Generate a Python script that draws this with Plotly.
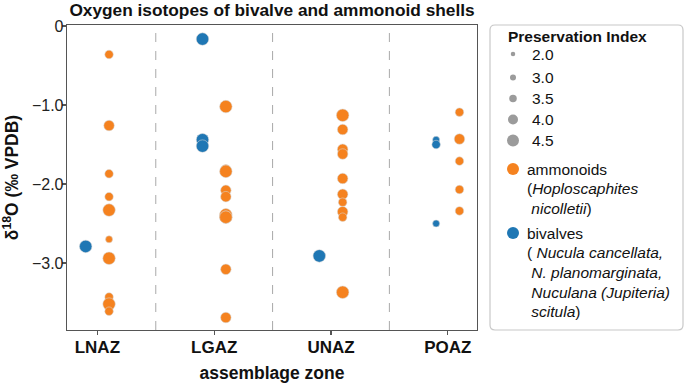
import plotly.graph_objects as go

# ---------------- data ----------------
zones = ["LNAZ", "LGAZ", "UNAZ", "POAZ"]

amm_zone = ["LNAZ"] * 10 + ["LGAZ"] * 10 + ["UNAZ"] * 10 + ["POAZ"] * 5
amm_d18o = [-0.36, -1.26, -1.87, -2.16, -2.33, -2.70, -2.94, -3.43, -3.52, -3.61,
            -1.02, -1.82, -1.84, -2.08, -2.16, -2.39, -2.42, -2.42, -3.08, -3.69,
            -1.13, -1.31, -1.56, -1.62, -1.93, -2.13, -2.23, -2.35, -2.42, -3.37,
            -1.09, -1.43, -1.71, -2.07, -2.34]
amm_pi = [3.5, 4.0, 3.5, 3.5, 4.5, 3.0, 4.5, 3.5, 4.5, 3.5,
          4.5, 4.0, 4.5, 4.0, 4.0, 4.5, 4.5, 4.5, 4.0, 4.0,
          4.5, 4.0, 4.0, 4.0, 4.0, 4.0, 3.5, 4.0, 3.5, 4.5,
          3.5, 4.0, 3.5, 3.5, 3.5]

biv_zone = ["LNAZ", "LGAZ", "LGAZ", "LGAZ", "UNAZ", "POAZ", "POAZ", "POAZ"]
biv_d18o = [-2.79, -0.165, -1.44, -1.52, -2.91, -1.44, -1.50, -2.50]
biv_pi = [4.5, 4.5, 4.5, 4.5, 4.5, 3.0, 3.5, 3.0]

pi_levels = [2.0, 3.0, 3.5, 4.0, 4.5]
pi_diam = [5, 7, 8.5, 10.5, 12.5]          # marker diameter per level (px)
legend_diam = [4.5, 6, 7.5, 10, 12]

y_tickvals = [0, -1, -2, -3]
y_ticktext = ["0", "\u22121.0", "\u22122.0", "\u22123.0"]

legend_title = "Preservation Index"
amm_label = ["ammonoids", "(<i>Hoploscaphites</i>", "\u00a0<i>nicolletii</i>)"]
biv_label = ["bivalves", "( <i>Nucula cancellata,</i>", "\u00a0<i>N. planomarginata,</i>",
             "\u00a0<i>Nuculana (Jupiteria)</i>", "\u00a0<i>scitula</i>)"]

# ---------------- styling ----------------
FONT = "Liberation Sans, Arial, Helvetica, sans-serif"
ORANGE = "#f5821f"
BLUE = "#1f77b4"
GREY = "#9b9b9b"
TXT = "#111111"
OFFSET = 0.1
W, H = 685, 383
ML, MR, MT, MB = 67, 208, 25, 53
PW, PH = W - ML - MR, H - MT - MB

size_map = dict(zip(pi_levels, pi_diam))
xpos = {z: i for i, z in enumerate(zones)}


def px(xp):
    return (xp - ML) / PW


def py(yp):
    return 1 - (yp - MT) / PH


fig = go.Figure()

# zone separators
for i in range(len(zones) - 1):
    fig.add_shape(type="line", xref="x", yref="paper", x0=i + 0.5, x1=i + 0.5,
                  y0=0, y1=1, line=dict(color="#a9a9a9", width=1, dash="dash"),
                  layer="below")

edge = dict(color="rgba(215,215,215,0.9)", width=0.6)

fig.add_trace(go.Scatter(
    x=[xpos[z] + OFFSET for z in amm_zone], y=amm_d18o, mode="markers",
    marker=dict(color=ORANGE, opacity=1, size=[size_map[p] for p in amm_pi], line=edge),
    showlegend=False, hoverinfo="skip"))
fig.add_trace(go.Scatter(
    x=[xpos[z] - OFFSET for z in biv_zone], y=biv_d18o, mode="markers",
    marker=dict(color=BLUE, opacity=1, size=[size_map[p] for p in biv_pi], line=edge),
    showlegend=False, hoverinfo="skip"))

# ---------------- manual legend ----------------
L, R, B, T = px(490), px(683), py(330), py(25)
rx, ry = 5 / PW, 5 / PH
path = (f"M {L+rx},{T} L {R-rx},{T} Q {R},{T} {R},{T-ry} L {R},{B+ry} "
        f"Q {R},{B} {R-rx},{B} L {L+rx},{B} Q {L},{B} {L},{B+ry} "
        f"L {L},{T-ry} Q {L},{T} {L+rx},{T} Z")
fig.add_shape(type="path", xref="paper", yref="paper", path=path,
              line=dict(color="#c8c8c8", width=1.2), fillcolor="rgba(0,0,0,0)")

LFS = 15.5
annotations = []


def add_text(text, xp, yp, bold=False):
    annotations.append(dict(
        text=f"<b>{text}</b>" if bold else text, xref="paper", yref="paper",
        x=px(xp), y=py(yp), xanchor="left", yanchor="middle", showarrow=False,
        align="left", font=dict(size=LFS, family=FONT, color=TXT)))


def add_dot(xp, yp, d, color):
    fig.add_shape(type="circle", xref="paper", yref="paper",
                  xsizemode="pixel", ysizemode="pixel",
                  xanchor=px(xp), yanchor=py(yp),
                  x0=-d / 2, x1=d / 2, y0=-d / 2, y1=d / 2,
                  fillcolor=color, line=dict(width=0))


add_text(legend_title, 506, 37, bold=True)
size_rows = [54, 77.5, 98.5, 119.5, 140.5]
for lvl, d, yy in zip(pi_levels, legend_diam, size_rows):
    add_dot(513, yy, d, GREY)
    add_text(f"{lvl:.1f}", 530, yy)

add_dot(513, 169, 12, ORANGE)
for k, line in enumerate(amm_label):
    add_text(line, 525, 169 + 19.7 * k)

add_dot(513, 233, 12, BLUE)
for k, line in enumerate(biv_label):
    add_text(line, 525, 233 + 19.7 * k)

axis_common = dict(showline=True, linecolor="#555555", linewidth=1.3, mirror=True,
                   ticks="outside", ticklen=4, tickcolor="#555555", tickwidth=1.1,
                   showgrid=False, zeroline=False, automargin=False)

fig.update_layout(
    width=W, height=H,
    margin=dict(l=ML, r=MR, t=MT, b=MB, autoexpand=False),
    paper_bgcolor="white", plot_bgcolor="white",
    showlegend=False,
    annotations=annotations,
    font=dict(family=FONT, color=TXT),
    title=dict(text="<b>Oxygen isotopes of bivalve and ammonoid shells</b>",
               font=dict(size=17.3, family=FONT, color=TXT),
               x=(ML + W - MR) / 2 / W, xanchor="center",
               y=1 - 10 / H, yanchor="middle", yref="container", automargin=False),
    xaxis=dict(range=[-0.26, 3.25], tickvals=list(range(len(zones))), ticktext=zones,
               tickfont=dict(size=17, family=FONT, color=TXT, weight="bold"),
               ticklabelstandoff=-3,
               title=dict(text="<b>assemblage zone</b>", standoff=13,
                          font=dict(size=17.5, family=FONT, color=TXT)),
               **axis_common),
    yaxis=dict(range=[-3.848, 0.013], tickvals=y_tickvals, ticktext=y_ticktext,
               tickfont=dict(size=16, family=FONT, color="#222222"),
               ticklabelstandoff=-5,
               title=dict(text="<b>\u03b4<sup>18</sup>O (\u2030 VPDB)</b>", standoff=13,
                          font=dict(size=17.5, family=FONT, color=TXT)),
               **axis_common),
)

fig.write_html("out.html",
               config={"displayModeBar": False, "staticPlot": True},
               post_script="document.body.style.margin='0';")
